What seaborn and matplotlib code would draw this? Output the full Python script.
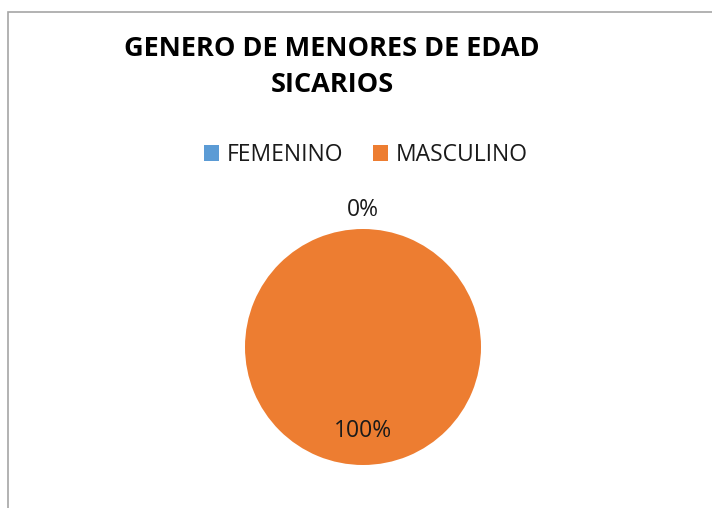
import numpy as np
import matplotlib
matplotlib.use("Agg")
import matplotlib.pyplot as plt
from matplotlib.patches import Rectangle, Patch
import seaborn as sns

# Data
categories = ["FEMENINO", "MASCULINO"]
values = [0, 100]
title_text = "GENERO DE MENORES DE EDAD\nSICARIOS"

sns.set_theme(style="white")
plt.rcParams["font.family"] = ["Open Sans", "DejaVu Sans"]

colors = ["#5B9BD5", "#ED7D31"]

fig = plt.figure(figsize=(7.12, 5.08), dpi=100)

# Chart frame
fig.patches.append(Rectangle((8 / 712, -0.01), 1.0, 1 - 11.5 / 508 + 0.01,
                             transform=fig.transFigure, fill=False,
                             edgecolor="#a6a6a6", linewidth=1.2))

# Pie axes (centre ~ (363, 347) px, radius ~118 px)
ax = fig.add_axes([(363 - 118) / 712, 1 - (347 + 118) / 508, 236 / 712, 236 / 508])
ax.pie(values, colors=colors, startangle=90, counterclock=False, radius=1.0,
       wedgeprops=dict(linewidth=0))
ax.set_xlim(-1, 1)
ax.set_ylim(-1, 1)
ax.set_aspect("equal")
ax.axis("off")

# Data labels
total = sum(values)
cum = 0
for v in values:
    frac = v / total
    mid = np.deg2rad(90 - 360 * (cum + frac / 2))
    cum += frac
    r = 1.16 if frac < 0.05 else 0.71
    ax.text(r * np.cos(mid), r * np.sin(mid), f"{frac * 100:.0f}%",
            ha="center", va="center", fontsize=16.5, color="#1a1a1a", clip_on=False)

# Title
fig.text(332 / 712, 1 - 67 / 508, title_text, ha="center", va="center",
         fontsize=19.5, fontweight="bold", color="black", linespacing=1.45)

# Legend
handles = [Patch(facecolor=c, edgecolor="none") for c in colors]
fig.legend(handles, categories, loc="center", bbox_to_anchor=(366 / 712, 1 - 155 / 508),
           ncol=2, frameon=False, fontsize=16.5, handlelength=0.65, handleheight=0.65,
           handletextpad=0.35, columnspacing=1.3, labelcolor="#1a1a1a")

fig.savefig("out.png", dpi=100)
